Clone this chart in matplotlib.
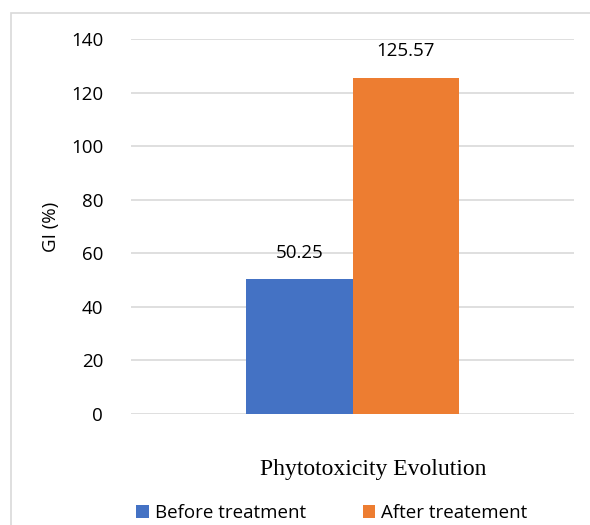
import matplotlib
matplotlib.use("Agg")
import matplotlib.pyplot as plt
from matplotlib.patches import Rectangle

series = ["Before treatment", "After treatement"]
values = [50.25, 125.57]
colors = ["#4472C4", "#ED7D31"]
category = "Phytotoxicity Evolution"
yticks = [0, 20, 40, 60, 80, 100, 120, 140]

sans = ["Open Sans", "DejaVu Sans"]
fig = plt.figure(figsize=(5.9, 5.25), dpi=100)
fig.patches.append(Rectangle((11/590, -0.1), 1.2, 1.1 - 13/525, transform=fig.transFigure,
                             fill=False, edgecolor="#d9d9d9", linewidth=1.2, clip_on=False))
ax = fig.add_axes([131/590, 1 - 414/525, 443/590, 375/525])

w = 0.479
offsets = [-w/2, w/2]
for s, v, c, o in zip(series, values, colors, offsets):
    ax.bar(o, v, width=w, color=c, label=s, zorder=3)
    ax.text(o, v + 6.5, f"{v:.2f}", ha="center", va="bottom", fontsize=13.5, family=sans)

ax.set_xlim(-1, 1)
ax.set_ylim(0, 140)
ax.set_yticks(yticks)
ax.set_yticklabels([str(t) for t in yticks], family=sans, fontsize=13.5)
ax.tick_params(axis="y", length=0, pad=20)
ax.set_xticks([])
ax.grid(axis="y", color="#d9d9d9", linewidth=1.2, zorder=0)
for sp in ax.spines.values():
    sp.set_visible(False)
ax.set_ylabel("GI (%)", family=sans, fontsize=13.5)
ax.yaxis.set_label_coords(-0.16, 0.5)

fig.text(373/590, 1 - 470/525, category, ha="center", va="center",
         family="Liberation Serif", fontsize=17)

leg = fig.legend(loc="center", bbox_to_anchor=(332/590, 1 - 513/525), ncol=2,
                 frameon=False, prop={"family": sans, "size": 13.5},
                 handlelength=0.65, handleheight=0.65, handletextpad=0.35, columnspacing=3.0)

fig.savefig("out.png", dpi=100)
